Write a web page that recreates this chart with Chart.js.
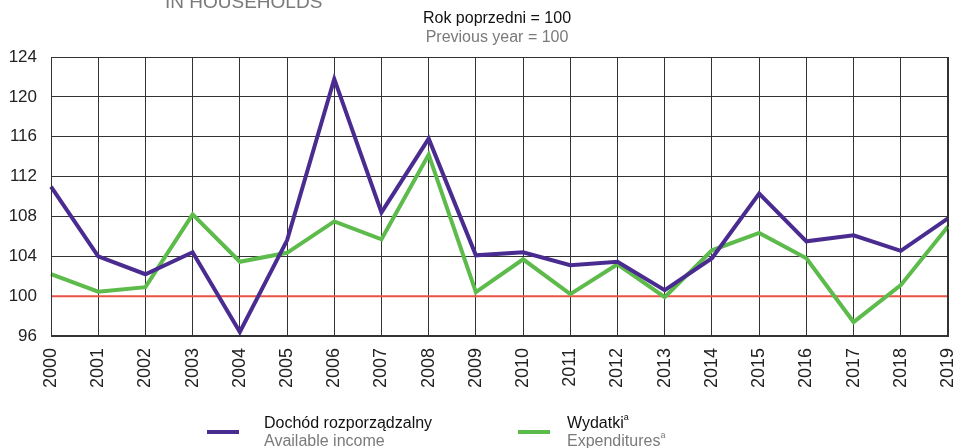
<!DOCTYPE html>
<html>
<head>
<meta charset="utf-8">
<script src="https://cdn.jsdelivr.net/npm/chart.js@4.4.1/dist/chart.umd.min.js"></script>
<style>
    html, body { margin: 0; padding: 0; background: #fff; }
    body { width: 958px; height: 448px; position: relative; overflow: hidden; font-family: "Liberation Sans", Arial, sans-serif; }
    #wrap { position: absolute; left: 0; top: 0; width: 958px; height: 448px; }
    .txt { position: absolute; white-space: nowrap; line-height: 1; }
    .gray { color: #7a7a7a; }
    .swatch { position: absolute; height: 4px; width: 32px; }
    sup { font-size: 9px; vertical-align: top; position: relative; top: -2px; }
</style>
</head>
<body>
<div id="wrap"><canvas id="chart" width="958" height="448"></canvas></div>

<div class="txt gray" style="left:165px; top:-8px; font-size:19px;">IN HOUSEHOLDS</div>
<div class="txt" style="left:0; width:994px; text-align:center; top:10px; font-size:16px; color:#111;">Rok poprzedni = 100</div>
<div class="txt gray" style="left:0; width:994px; text-align:center; top:29px; font-size:16px;">Previous year = 100</div>

<div class="swatch" style="left:207px; top:430px; background:#4a2c91;"></div>
<div class="txt" style="left:264px; top:415px; font-size:16px; color:#111;">Dochód rozporządzalny</div>
<div class="txt gray" style="left:264px; top:433px; font-size:16px;">Available income</div>

<div class="swatch" style="left:518px; top:430px; background:#5dbb4c;"></div>
<div class="txt" style="left:567px; top:415px; font-size:16px; color:#111;">Wydatki<sup>a</sup></div>
<div class="txt gray" style="left:567px; top:433px; font-size:16px;">Expenditures<sup>a</sup></div>

<script>
// Rok poprzedni = 100
const years = ['2000', '2001', '2002', '2003', '2004', '2005', '2006', '2007', '2008', '2009',
               '2010', '2011', '2012', '2013', '2014', '2015', '2016', '2017', '2018', '2019'];
const income = [111.0, 104.0, 102.2, 104.4, 96.4, 105.6, 121.8, 108.4, 115.8, 104.1,
                104.4, 103.1, 103.45, 100.6, 103.8, 110.3, 105.5, 106.1, 104.55, 107.8];
const expenditures = [102.2, 100.45, 100.9, 108.2, 103.45, 104.35, 107.5, 105.7, 114.2, 100.4,
                      103.7, 100.2, 103.2, 99.9, 104.6, 106.35, 103.8, 97.4, 101.1, 107.0];
const baseLevel = 100;
const yTicks = [96, 100, 104, 108, 112, 116, 120, 124];

const tickFont = { family: '"Liberation Sans", Arial, sans-serif', size: 17 };

new Chart(document.getElementById('chart').getContext('2d'), {
    type: 'line',
    data: {
        labels: years,
        datasets: [
            {
                label: 'Dochód rozporządzalny',
                data: income,
                borderColor: '#4a2c91',
                borderWidth: 4,
                pointRadius: 0,
                tension: 0,
                order: 1
            },
            {
                label: 'Wydatki',
                data: expenditures,
                borderColor: '#5dbb4c',
                borderWidth: 4,
                pointRadius: 0,
                tension: 0,
                order: 2
            },
            {
                label: 'base',
                data: years.map(() => baseLevel),
                borderColor: '#ea5245',
                borderWidth: 2,
                pointRadius: 0,
                order: 3
            }
        ]
    },
    options: {
        responsive: false,
        animation: false,
        layout: { padding: { top: 57, right: 10, left: 0, bottom: 0 } },
        plugins: {
            legend: { display: false },
            tooltip: { enabled: false }
        },
        scales: {
            x: {
                offset: false,
                grid: { color: '#333', lineWidth: 1, drawTicks: false, offset: false },
                border: { color: '#333', width: 1 },
                ticks: {
                    color: '#222',
                    font: { family: tickFont.family, size: 18 },
                    minRotation: 90,
                    maxRotation: 90,
                    padding: 12,
                    autoSkip: false
                },
                afterFit: (scale) => {
                    scale.height = 112;
                    scale.paddingLeft = 0;
                    scale.paddingRight = 0;
                }
            },
            y: {
                min: 96,
                max: 124,
                afterBuildTicks: (scale) => { scale.ticks = yTicks.map(v => ({ value: v })); },
                grid: { color: '#333', lineWidth: 1, drawTicks: false },
                border: { color: '#333', width: 1 },
                ticks: {
                    color: '#222',
                    font: tickFont,
                    padding: 14
                },
                afterFit: (scale) => {
                    scale.width = 51;
                    scale.paddingTop = 0;
                    scale.paddingBottom = 0;
                }
            }
        }
    },
    plugins: [{
        id: 'frame',
        afterDraw(chart) {
            const { ctx, chartArea: a } = chart;
            ctx.save();
            ctx.strokeStyle = '#333';
            ctx.lineWidth = 1;
            ctx.strokeRect(a.left + 0.5, a.top + 0.5, a.right - a.left - 1, a.bottom - a.top - 1);
            ctx.restore();
        }
    }]
});
</script>
</body>
</html>
